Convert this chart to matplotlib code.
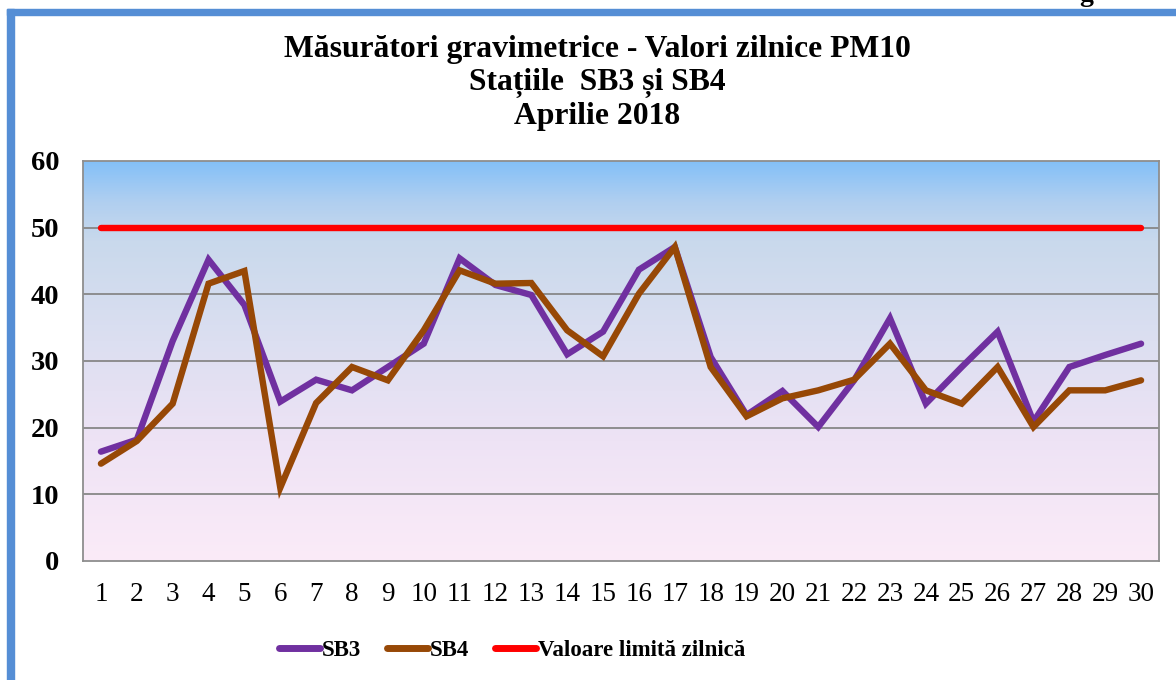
import numpy as np
import matplotlib
matplotlib.use("Agg")
import matplotlib.pyplot as plt
from matplotlib.colors import LinearSegmentedColormap
from matplotlib.patches import Rectangle

# date (medii zilnice PM10, ug/m3)
zile = list(range(1, 31))
sb3 = [16.4, 18.2, 33.0, 45.2, 38.4, 23.9, 27.2, 25.6, 29.1, 32.6,
       45.4, 41.4, 39.9, 31.0, 34.4, 43.7, 47.1, 30.6, 21.9, 25.5,
       20.1, 27.1, 36.4, 23.6, 29.1, 34.4, 20.9, 29.1, 30.9, 32.6]
sb4 = [14.6, 18.0, 23.6, 41.6, 43.5, 11.0, 23.7, 29.1, 27.1, 34.6,
       43.6, 41.6, 41.7, 34.6, 30.7, 40.1, 47.1, 29.1, 21.7, 24.4,
       25.6, 27.2, 32.6, 25.6, 23.6, 29.1, 20.1, 25.6, 25.6, 27.1]
limita = [50] * 30

titlu = "Măsurători gravimetrice - Valori zilnice PM10\nStațiile  SB3 și SB4\nAprilie 2018"
etichete = ["SB3", "SB4", "Valoare limită zilnică"]

W, H = 1176, 680
fig = plt.figure(figsize=(W / 100, H / 100), dpi=100)
fig.patch.set_facecolor("white")

# chenarul albastru (taiat in dreapta si jos, ca in captura)
fig.patches.append(Rectangle((7 / W, 1 - 15 / H), 1 - 7 / W, 6 / H, transform=fig.transFigure,
                             color="#558ED5", zorder=0))
fig.patches.append(Rectangle((7 / W, 0), 7 / W, 1 - 9 / H, transform=fig.transFigure,
                             color="#558ED5", zorder=0))
fig.text(1086 / W, 1 - 1 / H, "g", ha="center", va="baseline", fontsize=20,
         fontweight="bold", family="Liberation Serif")

ax = fig.add_axes([83 / W, 1 - 561 / H, (1159 - 83) / W, (561 - 161) / H])

# fundal in gradient (roz jos -> albastru sus)
cmap = LinearSegmentedColormap.from_list("fundal", [
    (0.0, "#FBEBF8"), (0.3, "#EEE3F5"), (0.55, "#DCDFF1"),
    (0.8, "#C9D9EC"), (0.9, "#B0CFF0"), (1.0, "#84C0F8")])
grad = np.linspace(0, 1, 256).reshape(-1, 1)
ax.imshow(grad, cmap=cmap, origin="lower", aspect="auto", extent=[0, 1, 0, 1],
          transform=ax.transAxes, zorder=0)

ax.set_xlim(0.5, 30.5)
ax.set_ylim(0, 60)
ax.set_yticks(range(0, 61, 10))
ax.set_xticks(zile)
for v in range(10, 60, 10):
    ax.axhline(v, color="#878787", lw=1.3, zorder=1)

ax.plot(zile, sb3, color="#7030A0", lw=4.6, solid_capstyle="round", solid_joinstyle="miter",
        zorder=3, label=etichete[0])
ax.plot(zile, sb4, color="#974806", lw=4.6, solid_capstyle="round", solid_joinstyle="miter",
        zorder=4, label=etichete[1])
ax.plot(zile, limita, color="#FF0000", lw=4.6, solid_capstyle="round", zorder=5,
        label=etichete[2])

for s in ax.spines.values():
    s.set_color("#8E8E8E")
    s.set_linewidth(1.3)

ax.tick_params(axis="both", length=0)
ax.tick_params(axis="y", pad=17)
ax.tick_params(axis="x", pad=15)
for t in ax.get_yticklabels():
    t.set_fontfamily("Liberation Serif")
    t.set_fontweight("bold")
    t.set_fontsize(20.5)
for t in ax.get_xticklabels():
    t.set_fontfamily("Liberation Serif")
    t.set_fontsize(19.5)

fig.text(597 / W, 1 - 83 / H, titlu, ha="center", va="center", fontsize=22.8,
         fontweight="bold", family="Liberation Serif", linespacing=1.2)

leg = fig.legend(loc="center", bbox_to_anchor=(512 / W, 1 - 650 / H), ncol=3,
                 frameon=False, handlelength=1.8, handletextpad=0.1, columnspacing=1.1,
                 prop={"family": "Liberation Serif", "weight": "bold", "size": 16.5})
for ln in leg.get_lines():
    ln.set_linewidth(5)

fig.savefig("out.png", dpi=100)
